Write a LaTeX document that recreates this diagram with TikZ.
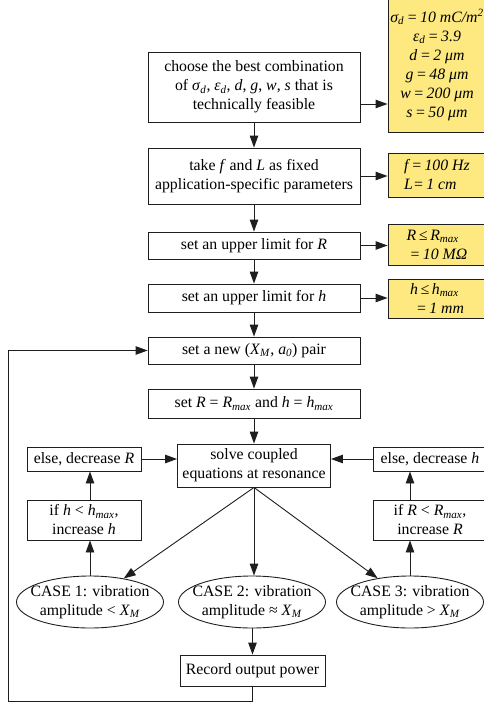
\documentclass[tikz,border=0pt]{standalone}
\usepackage{fontspec}
\setmainfont{Liberation Serif}
\usetikzlibrary{arrows.meta,shapes.geometric}
\definecolor{yelc}{RGB}{253,233,128}
\definecolor{lnc}{RGB}{30,30,30}
\newcommand\vv[1]{\textit{#1}}
\newcommand\subi[1]{\textsubscript{\textit{#1}}}
\begin{document}
\begin{tikzpicture}[x=1pt,y=1pt,
  every node/.style={font=\fontsize{15.8pt}{19pt}\selectfont, inner sep=0pt},
  box/.style={draw=lnc, line width=0.9pt, rectangle, align=center},
  yel/.style={draw=lnc, line width=0.9pt, fill=yelc, rectangle, inner sep=0pt,
    minimum width=98pt, font=\fontsize{15.8pt}{19pt}\selectfont\itshape},
  oval/.style={draw=lnc, ellipse, line width=0.9pt, align=center, inner xsep=-9pt, inner ysep=-2pt,
    minimum width=147pt, minimum height=52pt},
  arr/.style={draw=lnc, line width=0.9pt, -{Triangle[length=12pt,width=8.5pt]}}]
\useasboundingbox (0,0) rectangle (484,-704);
\clip (0,0) rectangle (484,-704);

% main column
\node[box, minimum width=212pt, minimum height=70pt] (b1) at (254,-87)
  {choose the best combination\\of \vv{σ}\subi{d}, \vv{ε}\subi{d}, \vv{d}, \vv{g}, \vv{w}, \vv{s} that is\\technically feasible};
\node[box, minimum width=212pt, minimum height=56pt] (b2) at (254,-176)
  {take \vv{f} and \vv{L} as fixed\\application-specific parameters};
\node[box, minimum width=212pt, minimum height=27pt] (b3) at (254,-245.5)
  {set an upper limit for \vv{R}};
\node[box, minimum width=212pt, minimum height=28pt] (b4) at (254,-298)
  {set an upper limit for \vv{h}};
\node[box, minimum width=212pt, minimum height=27pt] (b5) at (254,-350.5)
  {set a new (\vv{X}\subi{M}, \vv{a}\subi{0}) pair};
\node[box, minimum width=212pt, minimum height=29pt] (b6) at (254,-403.5)
  {set \vv{R} = \vv{R}\subi{max} and \vv{h} = \vv{h}\subi{max}};
\node[box, minimum width=153pt, minimum height=43pt] (solve) at (254,-465.5)
  {solve coupled\\equations at resonance};
\node[box, minimum width=114pt, minimum height=24pt] (elseR) at (84,-459)
  {else, decrease \vv{R}};
\node[box, minimum width=114pt, minimum height=24pt] (elseH) at (430,-459)
  {else, decrease \vv{h}};
\node[box, minimum width=114pt, minimum height=40pt] (ifH) at (84,-520)
  {if \vv{h} < \vv{h}\subi{max},\\increase \vv{h}};
\node[box, minimum width=114pt, minimum height=40pt] (ifR) at (430,-520)
  {if \vv{R} < \vv{R}\subi{max},\\increase \vv{R}};
\node[oval] (e1) at (90,-602) {CASE 1: vibration\\amplitude < \vv{X}\subi{M}};
\node[oval] (e2) at (252,-602) {CASE 2: vibration\\amplitude ≈ \vv{X}\subi{M}};
\node[oval] (e3) at (410,-602) {CASE 3: vibration\\amplitude > \vv{X}\subi{M}};
\node[box, minimum width=145pt, minimum height=31pt] (rec) at (252.5,-670.5)
  {Record output power};

% yellow parameter boxes
\node[yel, minimum height=134pt, align=center] (y1) at (437,-65)
  {σ\subi{d}\,=\,10 mC/m\textsuperscript{2}\\ε\subi{d}\,=\,3.9\\d\,=\,2 μm\\g\,=\,48 μm\\w\,=\,200 μm\\s\,=\,50 μm};
\node[yel, minimum height=44pt, align=left] (y2) at (437,-175)
  {f\,=\,100 Hz\\L=\,1 cm};
\node[yel, minimum height=41pt, align=left] (y3) at (437,-244.5)
  {R\,≤\,R\subi{max}\\\hspace*{3pt}=\,10 MΩ};
\node[yel, minimum height=39pt, align=left] (y4) at (437,-298.5)
  {h\,≤\,h\subi{max}\\\hspace*{6pt}=\,1 mm};

% connectors
\coordinate (a1) at (0,-104);
\draw[arr] (b1.east |- a1) -- (y1.west |- a1);
\draw[arr] (b2.east) -- (b2.east -| y2.west);
\draw[arr] (b3.east) -- (b3.east -| y3.west);
\draw[arr] (b4.east) -- (b4.east -| y4.west);
\draw[arr] (b1.south) -- (b2.north);
\draw[arr] (b2.south) -- (b3.north);
\draw[arr] (b3.south) -- (b4.north);
\draw[arr] (b4.south) -- (b5.north);
\draw[arr] (b5.south) -- (b6.north);
\draw[arr] (b6.south) -- (solve.north);
\draw[arr] (elseR.east) -- (elseR.east -| solve.west);
\draw[arr] (elseH.west) -- (elseH.west -| solve.east);
\draw[arr] (ifH.north -| e1.north) -- (elseR.south -| e1.north);
\draw[arr] (ifR.north -| e3.north) -- (elseH.south -| e3.north);
\draw[arr] (e1.north) -- (e1.north |- ifH.south);
\draw[arr] (e3.north) -- (e3.north |- ifR.south);
\draw[arr] (solve.south) -- (e1);
\draw[arr] (solve.south) -- (e3);
\draw[arr] (solve.south) -- (solve.south |- e2.north);
\draw[arr] (e2.south -| rec.north) -- (rec.north);
\coordinate (lb) at (8,-701);
\draw[arr] (rec.south) |- (lb) |- (b5.west);
\end{tikzpicture}
\end{document}
